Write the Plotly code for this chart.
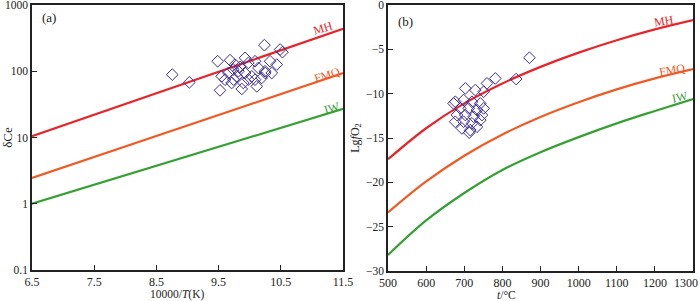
import plotly.graph_objects as go

# ---------------- data ----------------
# Panel (a): buffer lines (log-linear), x = 10000/T(K), y = δCe
buf_a_x = [6.5, 11.5]
mh_a = [10.5, 437]
fmq_a = [2.45, 94]
iw_a = [1.0, 27]

# Panel (a): zircon samples
zr_a_x = [8.755, 9.03, 9.485, 9.684, 10.237, 10.489, 10.526, 10.435, 9.523, 9.872,
          10.113, 10.328, 10.086, 9.979, 9.845, 9.737, 9.657, 9.791, 9.925, 10.14,
          10.247, 10.033, 9.603, 9.71, 10.193, 10.355, 10.086, 9.898, 9.818, 9.764,
          9.925, 9.55, 9.74, 9.98, 10.25]
zr_a_y = [89, 68, 141.6, 146.6, 247.7, 212.8, 194.1, 126.2, 51.5, 54.0,
          59.2, 141.6, 141.6, 133.7, 116.1, 105.9, 94.2, 83.9, 94.2, 112.2,
          100, 83.9, 74.6, 66.5, 79.3, 94.2, 74.6, 66.5, 100, 125.9,
          159.2, 84, 75, 75, 94]

# Panel (b): buffer curves, t/°C vs Lg fO2
buf_b_t = [500, 600, 700, 800, 900, 1000, 1100, 1200, 1300]
mh_b = [-17.4, -13.9, -11.1, -8.85, -6.98, -5.37, -3.97, -2.75, -1.7]
fmq_b = [-23.4, -19.9, -17.0, -14.6, -12.62, -10.96, -9.52, -8.28, -7.24]
iw_b = [-28.2, -24.3, -21.2, -18.6, -16.6, -14.9, -13.35, -11.95, -10.6]

# Panel (b): zircon samples
zr_b_t = [871, 836, 781.5, 759.6, 702.8, 729, 750.9, 676.5, 698.4, 720.3,
          742.1, 689.7, 711.5, 733.4, 750.9, 680.9, 702.8, 724.6, 746.5, 676.5,
          698.4, 720.3, 742.1, 694, 715.9, 733.4, 713, 672]
zr_b_y = [-5.95, -8.35, -8.28, -8.84, -9.40, -9.59, -9.78, -10.91, -10.72, -10.91,
          -11.10, -11.66, -11.66, -11.85, -11.66, -12.41, -12.41, -12.60, -12.41, -13.17,
          -13.17, -13.35, -12.98, -13.92, -14.11, -13.73, -14.4, -11.1]

xa_ticks = [6.5, 7.5, 8.5, 9.5, 10.5, 11.5]
ya_ticks = [0.1, 1, 10, 100, 1000]
ya_text = ["0.1", "1", "10", "100", "1000"]
xb_ticks = [500, 600, 700, 800, 900, 1000, 1100, 1200, 1300]
xb_text = ["500", "600", "700", "800", "900", "1000", "1100", "1200", ""]
yb_ticks = [0, -5, -10, -15, -20, -25, -30]

RED = "#e5262b"
ORANGE = "#f05a24"
GREEN = "#37a035"
PURPLE = "#3d2d94"
FONT = "Liberation Serif"
INK = "#222"

fig = go.Figure()

def line(x, y, color, xa, ya, spline=False):
    fig.add_trace(go.Scatter(x=x, y=y, mode="lines", xaxis=xa, yaxis=ya,
                             line=dict(color=color, width=2.2,
                                       shape="spline" if spline else "linear"),
                             showlegend=False, hoverinfo="skip"))

line(buf_a_x, mh_a, RED, "x", "y")
line(buf_a_x, fmq_a, ORANGE, "x", "y")
line(buf_a_x, iw_a, GREEN, "x", "y")
fig.add_trace(go.Scatter(x=zr_a_x, y=zr_a_y, mode="markers", xaxis="x", yaxis="y",
                         marker=dict(symbol="diamond-open", size=9, color=PURPLE,
                                     line=dict(width=1, color=PURPLE)),
                         showlegend=False))

line(buf_b_t, mh_b, RED, "x2", "y2", True)
line(buf_b_t, fmq_b, ORANGE, "x2", "y2", True)
line(buf_b_t, iw_b, GREEN, "x2", "y2", True)
fig.add_trace(go.Scatter(x=zr_b_t, y=zr_b_y, mode="markers", xaxis="x2", yaxis="y2",
                         marker=dict(symbol="diamond-open", size=9, color=PURPLE,
                                     line=dict(width=1, color=PURPLE)),
                         showlegend=False))

axis_common = dict(showline=True, mirror=True, linecolor=INK, linewidth=1.5,
                   ticks="inside", ticklen=5, tickcolor=INK, showgrid=False,
                   zeroline=False, automargin=False, ticklabeloverflow="allow")
xtf = dict(family=FONT, size=12, color=INK)
ytf = dict(family=FONT, size=11.5, color=INK)

fig.update_layout(
    width=700, height=301,
    margin=dict(l=0, r=0, t=0, b=0),
    paper_bgcolor="white", plot_bgcolor="white",
    font=dict(family=FONT, size=12, color=INK),
    xaxis=dict(domain=[32 / 700, 343 / 700], range=[6.5, 11.5], tickvals=xa_ticks,
               anchor="y", tickfont=xtf, **axis_common),
    yaxis=dict(domain=[31 / 301, 296 / 301], type="log", range=[-1, 3],
               tickvals=ya_ticks, ticktext=ya_text, anchor="x", tickfont=ytf,
               title=dict(text="δCe", standoff=4, font=dict(family=FONT, size=13)),
               **axis_common),
    xaxis2=dict(domain=[388 / 700, 693 / 700], range=[500, 1300], tickvals=xb_ticks,
                ticktext=xb_text, anchor="y2", tickfont=xtf, **axis_common),
    yaxis2=dict(domain=[30 / 301, 296 / 301], range=[-30, 0], tickvals=yb_ticks,
                anchor="x2", tickfont=ytf,
                title=dict(text="Lg<i>f</i>O<sub>2</sub>", standoff=4,
                           font=dict(family=FONT, size=12)),
                **axis_common),
)

ann = []
def label(text, x, y, xref, yref, color=INK, angle=0, size=12, **kw):
    ann.append(dict(text=text, x=x, y=y, xref=xref, yref=yref, showarrow=False,
                    textangle=angle, font=dict(family=FONT, size=size, color=color), **kw))

label("(a)", 6.77, 2.81, "x", "y", size=13)
label("(b)", 545, -1.88, "x2", "y2", size=13)
label("MH", 11.18, 2.656, "x", "y", RED, -17)
label("FMQ", 11.24, 1.94, "x", "y", ORANGE, -17)
label("IW", 11.32, 1.444, "x", "y", GREEN, -16)
label("MH", 1223, -1.77, "x2", "y2", RED, -9)
label("FMQ", 1245, -7.34, "x2", "y2", ORANGE, -10)
label("IW", 1267, -10.35, "x2", "y2", GREEN, -12)
# x-axis titles
label("10000/<i>T</i>(K)", 8.83, 0, "x", "paper", size=11.5, yanchor="bottom", yshift=-2)
label("<i>t</i>/°C", 810, 0, "x2", "paper", size=11.5, yanchor="bottom", yshift=-2)
# last x tick label of panel (b), kept inside the page
ann.append(dict(text="1300", x=1.0, xref="paper", y=(301 - 283) / 301,
                yref="paper", xanchor="right", yanchor="middle", showarrow=False,
                font=xtf))
fig.update_layout(annotations=ann)

fig.write_html("out.html", config={"displayModeBar": False},
               post_script="document.body.style.margin='0';document.body.style.overflow='hidden';")
